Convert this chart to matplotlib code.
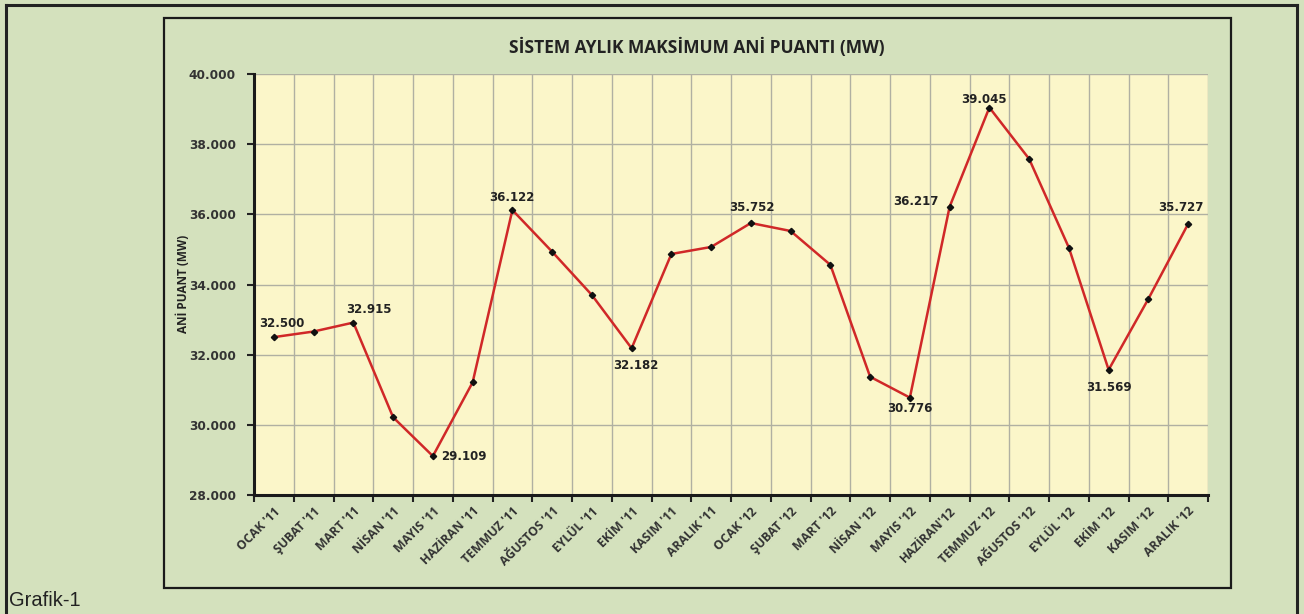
import matplotlib
matplotlib.use("Agg")
import matplotlib.pyplot as plt
from matplotlib.patches import Rectangle
from matplotlib.lines import Line2D
from matplotlib.ticker import FuncFormatter, FixedLocator

months = ["OCAK '11", "ŞUBAT '11", "MART '11", "NİSAN '11", "MAYIS '11", "HAZİRAN '11",
          "TEMMUZ '11", "AĞUSTOS '11", "EYLÜL '11", "EKİM '11", "KASIM '11", "ARALIK '11",
          "OCAK '12", "ŞUBAT '12", "MART '12", "NİSAN '12", "MAYIS '12", "HAZİRAN'12",
          "TEMMUZ '12", "AĞUSTOS '12", "EYLÜL '12", "EKİM '12", "KASIM '12", "ARALIK '12"]
values = [32500, 32660, 32915, 30215, 29109, 31210, 36122, 34935, 33700, 32182, 34870, 35070,
          35752, 35525, 34560, 31370, 30776, 36217, 39045, 37580, 35050, 31569, 33590, 35727]
labeled = [0, 2, 4, 6, 9, 12, 16, 17, 18, 21, 23]
label_offsets = {0: (6, 9.5), 2: (11, 9.5), 4: (22, 0), 6: (0, 9), 9: (3, -12.5), 12: (1, 11.5),
                 16: (0, -7.5), 17: (-24, 3.5), 18: (-4, 6), 21: (0, -12.5), 23: (-5, 11.5)}

W, H = 1304, 614
fig = plt.figure(figsize=(W / 100, H / 100), dpi=100)
bg = "#d4e1bd"
fig.patch.set_facecolor(bg)

def fx(px):
    return px / W

def fy(py):
    return 1 - py / H

# outer frame
for (x0, y0, x1, y1) in [(6, 5, 1297, 5), (6, 5, 6, 614), (1297, 5, 1297, 614)]:
    fig.add_artist(Line2D([fx(x0), fx(x1)], [fy(y0), fy(y1)], color="#222222", lw=2.2))
# inner chart frame
fig.add_artist(Rectangle((fx(164), fy(588)), fx(1231) - fx(164), fy(18) - fy(588),
                         fill=False, edgecolor="#1a1a1a", lw=1.6))

left, right, top, bottom = 254, 1208, 74, 495
ax = fig.add_axes([fx(left), fy(bottom), fx(right) - fx(left), fy(top) - fy(bottom)])
ax.set_facecolor("#fbf6c9")

x = list(range(len(values)))
ax.plot(x, values, color="#d02828", lw=1.8, zorder=3)
ax.plot(x, values, linestyle="none", marker="D", ms=3.2, color="#111111", zorder=4)

ax.set_xlim(-0.5, len(values) - 0.5)
ax.set_ylim(28000, 40000)
ax.set_yticks(range(28000, 40001, 2000))
ax.yaxis.set_major_formatter(FuncFormatter(lambda v, p: f"{int(v):,}".replace(",", ".")))

ax.xaxis.set_major_locator(FixedLocator([i - 0.5 for i in range(len(values) + 1)]))
ax.xaxis.set_minor_locator(FixedLocator(x))
ax.set_xticklabels([])
ax.set_xticklabels(months, minor=True, rotation=45, ha="right", rotation_mode="anchor",
                   fontsize=8.8, fontweight="bold", color="#333333", family="Open Sans")
ax.tick_params(axis="x", which="minor", length=0, pad=7)
ax.tick_params(axis="x", which="major", length=5, width=1.5, color="#222222", direction="out")
ax.tick_params(axis="y", length=5, width=1.5, color="#222222", labelsize=8.7,
               labelcolor="#333333", pad=8)
for lab in ax.get_yticklabels():
    lab.set_fontweight("bold")

ax.grid(True, which="major", color="#b0b0a2", lw=1.0)
ax.set_axisbelow(True)
for s in ["top", "right"]:
    ax.spines[s].set_visible(False)
for s in ["left", "bottom"]:
    ax.spines[s].set_linewidth(2.2)
    ax.spines[s].set_color("#1a1a1a")

for i in labeled:
    dx, dy = label_offsets[i]
    ax.annotate(f"{values[i]:,}".replace(",", "."), (i, values[i]), xytext=(dx, dy),
                textcoords="offset points", ha="center", va="center",
                fontsize=8.5, fontweight="bold", color="#222222", zorder=5)

fig.text(fx(697), fy(47), "SİSTEM AYLIK MAKSİMUM ANİ PUANTI (MW)", ha="center", va="center",
         fontsize=12.5, fontweight="bold", color="#222222", family="Open Sans")
fig.text(fx(183), fy(284), "ANİ PUANT (MW)", ha="center", va="center", rotation=90,
         fontsize=8.5, fontweight="bold", color="#222222", family="Open Sans")
fig.text(fx(9), fy(600), "Grafik-1", ha="left", va="center", fontsize=14.5,
         color="#222222", family="Liberation Sans")

fig.savefig("out.png", dpi=100, facecolor=fig.get_facecolor())
